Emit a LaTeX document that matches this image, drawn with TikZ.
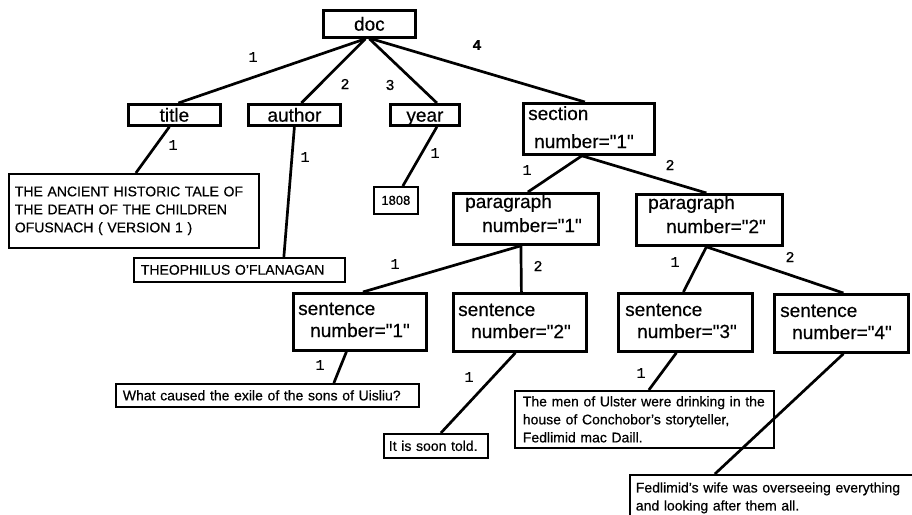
\documentclass[tikz,border=0pt]{standalone}
\usepackage{fontspec}
\setmainfont{Liberation Sans}
\newfontfamily\nfont{Liberation Sans}[FakeBold=0.5]
\newfontfamily\lblfont{Liberation Mono}[FakeBold=0.6]
\begin{document}
\begin{tikzpicture}[x=1pt,y=-1pt,
  elem/.style={draw, line width=2.8pt, inner sep=0pt, anchor=north west, font=\nfont\fontsize{19}{22}\selectfont},
  onel/.style={text height=13.5pt, text depth=0pt},
  elemtxt/.style={anchor=base west, inner sep=0pt, font=\nfont\fontsize{19}{22}\selectfont},
  tbox/.style={draw, line width=1.7pt, inner ysep=0pt, anchor=north west, align=left, font=\nfont\fontsize{14}{18}\selectfont},
  edge/.style={line width=2.7pt},
  lbl/.style={inner sep=0pt, font=\lblfont\fontsize{15}{15}\selectfont}]
\useasboundingbox (0,0) rectangle (912,514);
\clip (0,0) rectangle (912,514);
\fill[white] (0,0) rectangle (912,514);

% element boxes
\node[elem, onel, minimum width=92pt, minimum height=27pt] (doc) at (322,9) {doc};
\node[elem, onel, minimum width=92pt, minimum height=21pt] (title) at (127,103) {title};
\node[elem, onel, minimum width=92pt, minimum height=21pt] (author) at (247,103) {author};
\node[elem, onel, minimum width=69pt, minimum height=21pt] (year) at (389,103) {year};
\node[elem, minimum width=131pt, minimum height=51pt] (sec) at (522,102) {};
\node[elem, minimum width=145pt, minimum height=51pt] (p1) at (452,192) {};
\node[elem, minimum width=146pt, minimum height=51pt] (p2) at (635,193) {};
\node[elem, minimum width=133pt, minimum height=57pt] (s1) at (292,292) {};
\node[elem, minimum width=133pt, minimum height=58pt] (s2) at (452,292) {};
\node[elem, minimum width=134pt, minimum height=58pt] (s3) at (617,292) {};
\node[elem, minimum width=134pt, minimum height=58pt] (s4) at (773,293) {};

% element texts
\node[elemtxt] (secA) at (528,120) {section};
\node[elemtxt] (secB) at (534,148) {number="1"};
\node[elemtxt] (p1A) at (465,208) {paragraph};
\node[elemtxt] (p1B) at (482,232) {number="1"};
\node[elemtxt] (p2A) at (648,209) {paragraph};
\node[elemtxt] (p2B) at (666,233) {number="2"};
\node[elemtxt] (s1A) at (298,315) {sentence};
\node[elemtxt] (s1B) at (310,337) {number="1"};
\node[elemtxt] (s2A) at (458,316) {sentence};
\node[elemtxt] (s2B) at (471,338) {number="2"};
\node[elemtxt] (s3A) at (625,316) {sentence};
\node[elemtxt] (s3B) at (637,338) {number="3"};
\node[elemtxt] (s4A) at (780,317) {sentence};
\node[elemtxt] (s4B) at (792,339) {number="4"};

% text boxes
\node[tbox, minimum height=74pt, inner xsep=6pt, text width=238pt] (ttext) at (8,173)
  {THE ANCIENT HISTORIC TALE OF\\THE DEATH OF THE CHILDREN\\OFUSNACH ( VERSION 1 )};
\node[tbox, minimum width=44pt, minimum height=27pt, inner xsep=0pt, align=center, font=\nfont\fontsize{13}{16}\selectfont] (ytext) at (373,186) {1808};
\node[tbox, minimum height=24pt, inner xsep=7pt, text width=197pt] (atext) at (133,257) {THEOPHILUS O’FLANAGAN};
\node[tbox, minimum height=23pt, inner xsep=7pt, text width=289pt] (what) at (115,383) {What caused the exile of the sons of Uisliu?};
\node[tbox, minimum height=24pt, inner xsep=5pt, text width=94pt] (soon) at (383,433) {It is soon told.};
\node[tbox, minimum height=57pt, inner xsep=8pt, text width=243pt] (men) at (514,390)
  {The men of Ulster were drinking in the\\house of Conchobor’s storyteller,\\Fedlimid mac Daill.};
\node[tbox, minimum height=46pt, inner xsep=6pt, text width=288pt] (fed) at (629,474)
  {Fedlimid’s wife was overseeing everything\\and looking after them all.};

% edges
\draw[edge] ([xshift=-4pt]doc.south) -- ([xshift=4pt]title.north);
\draw[edge] ([xshift=-4pt]doc.south) -- ([xshift=7pt]author.north);
\draw[edge] (doc.south) -- ([xshift=12pt]year.north);
\draw[edge] ([xshift=2pt]doc.south) -- ([xshift=-4pt]sec.north);
\draw[edge] ([xshift=-5pt]title.south) -- ([xshift=2pt]ttext.north);
\draw[edge] (author.south) -- ([xshift=44.5pt]atext.north);
\draw[edge] ([xshift=12pt]year.south) -- ([xshift=7pt]ytext.north);
\draw[edge] ([xshift=-7pt]sec.south) -- ([xshift=2pt]p1.north);
\draw[edge] ([xshift=-7pt]sec.south) -- ([xshift=-3pt]p2.north);
\draw[edge] ([xshift=-5pt]p1.south) -- ([xshift=3pt]s1.north);
\draw[edge] ([xshift=-5pt]p1.south) -- ([xshift=1.5pt]s2.north);
\draw[edge] ([xshift=-3pt]p2.south) -- ([xshift=-2pt]s3.north);
\draw[edge] ([xshift=-3pt]p2.south) -- ([xshift=2pt]s4.north);
\draw[edge] ([xshift=-13.5pt]s1.south) -- ([xshift=66.5pt]what.north);
\draw[edge] ([xshift=-4.5pt]s2.south) -- ([xshift=5pt]soon.north);
\draw[edge] ([xshift=-9pt]s3.south) -- ([xshift=4.5pt]men.north);
\draw[edge] ([xshift=2pt]s4.south) -- ([xshift=-65pt]fed.north);

% edge labels
\node[lbl] (l1) at (253,57) {1};
\node[lbl] (l2) at (345,84) {2};
\node[lbl] (l3) at (390,85) {3};
\node[lbl] (l4) at (477,45) {\bfseries 4};
\node[lbl] (l5) at (173,145) {1};
\node[lbl] (l6) at (305,157) {1};
\node[lbl] (l7) at (435,153) {1};
\node[lbl] (l8) at (527,170) {1};
\node[lbl] (l9) at (670,165) {2};
\node[lbl] (l10) at (395,264) {1};
\node[lbl] (l11) at (538,266) {2};
\node[lbl] (l12) at (675,262) {1};
\node[lbl] (l13) at (790,257) {2};
\node[lbl] (l14) at (320,365) {1};
\node[lbl] (l15) at (469,377) {1};
\node[lbl] (l16) at (641,373) {1};
\end{tikzpicture}
\end{document}
